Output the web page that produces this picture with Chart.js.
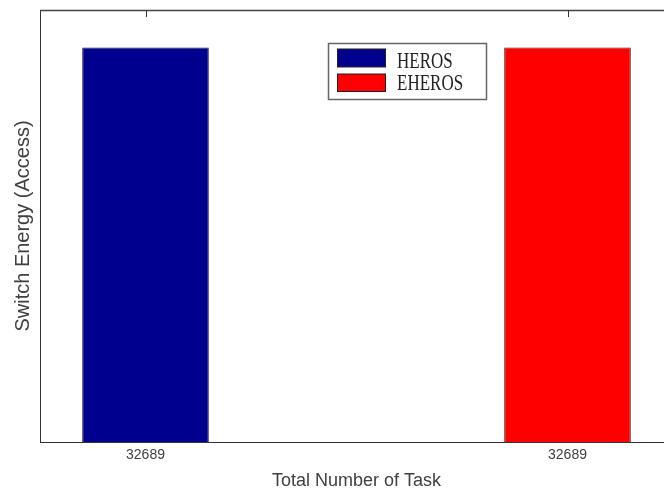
<!DOCTYPE html>
<html>
<head>
<meta charset="utf-8">
<script src="https://cdn.jsdelivr.net/npm/chart.js@4/dist/chart.umd.min.js"></script>
<style>
  html, body { margin: 0; padding: 0; background: #fff; overflow: hidden; }
  #wrap { width: 680px; height: 494px; }
</style>
</head>
<body>
<div id="wrap"><canvas id="energyChart"></canvas></div>
<script>
// Task-count positions on the x axis and the labels printed under them
const taskPositions = [1, 2];
const taskLabels = ['32689', '32689'];

// Series names and their (normalised) switch energy values
const seriesNames = ['HEROS', 'EHEROS'];
const herosEnergy = [1.0];
const eherosEnergy = [1.0];

const seriesColors = ['#00008F', '#FF0000'];
const energyAxisMax = 1.095;

// Frame: top border plus MATLAB-style inward tick marks
const framePlugin = {
  id: 'frame',
  beforeDatasetsDraw(chart) {
    const { ctx, chartArea } = chart;
    const xs = chart.scales.x;
    ctx.save();
    ctx.strokeStyle = '#444';
    ctx.lineWidth = 1.5;
    ctx.beginPath();
    ctx.moveTo(chartArea.left, chartArea.top + 0.5);
    ctx.lineTo(chartArea.right, chartArea.top + 0.5);
    ctx.stroke();
    ctx.lineWidth = 1;
    ctx.strokeStyle = '#333';
    xs.ticks.forEach((t) => {
      const px = Math.round(xs.getPixelForValue(t.value)) + 0.5;
      ctx.beginPath();
      ctx.moveTo(px, chartArea.top);
      ctx.lineTo(px, chartArea.top + 7);
      ctx.moveTo(px, chartArea.bottom);
      ctx.lineTo(px, chartArea.bottom - 7);
      ctx.stroke();
    });
    ctx.restore();
  }
};

// Boxed legend drawn inside the plot area
const boxedLegendPlugin = {
  id: 'boxedLegend',
  afterDatasetsDraw(chart) {
    const { ctx } = chart;
    const box = { x: 328, y: 43, w: 158, h: 56 };
    ctx.save();
    ctx.fillStyle = '#fff';
    ctx.fillRect(box.x, box.y, box.w, box.h);
    ctx.strokeStyle = '#666';
    ctx.lineWidth = 1.5;
    ctx.strokeRect(box.x + 0.5, box.y + 0.5, box.w, box.h);
    const rows = [
      { sy: 49, sh: 18, base: 68 },
      { sy: 74, sh: 17.5, base: 90 }
    ];
    chart.data.datasets.forEach((ds, i) => {
      const r = rows[i];
      ctx.fillStyle = ds.backgroundColor;
      ctx.fillRect(337.5, r.sy, 48, r.sh);
      ctx.strokeStyle = '#222';
      ctx.lineWidth = 1;
      ctx.strokeRect(337.5, r.sy, 48, r.sh);
      ctx.save();
      ctx.translate(397, r.base);
      ctx.scale(1, 1.35);
      ctx.fillStyle = '#222';
      ctx.font = '17px "Liberation Serif", "Times New Roman", serif';
      ctx.textBaseline = 'alphabetic';
      ctx.fillText(ds.label, 0, 0);
      ctx.restore();
    });
    ctx.restore();
  }
};

new Chart(document.getElementById('energyChart'), {
  type: 'bar',
  data: {
    datasets: [
      {
        label: seriesNames[0],
        data: herosEnergy.map((v) => ({ x: taskPositions[0], y: v })),
        backgroundColor: seriesColors[0],
        borderColor: '#1a1a3a',
        borderWidth: 1,
        grouped: false,
        categoryPercentage: 1,
        barPercentage: 0.3
      },
      {
        label: seriesNames[1],
        data: eherosEnergy.map((v) => ({ x: taskPositions[1], y: v })),
        backgroundColor: seriesColors[1],
        borderColor: '#3a1a1a',
        borderWidth: 1,
        grouped: false,
        categoryPercentage: 1,
        barPercentage: 0.3
      }
    ]
  },
  options: {
    responsive: true,
    maintainAspectRatio: false,
    animation: false,
    layout: { padding: { top: 10, right: 7, left: 0, bottom: 0 } },
    plugins: {
      legend: { display: false },
      tooltip: { enabled: false }
    },
    scales: {
      x: {
        type: 'linear',
        offset: false,
        min: 0.75,
        max: 2.25,
        afterBuildTicks(scale) {
          scale.ticks = taskPositions.map((v) => ({ value: v }));
        },
        afterFit(scale) { scale.height = 52; },
        grid: { display: false, offset: false, drawTicks: false, tickLength: 0 },
        border: { display: true, color: '#333', width: 1 },
        ticks: {
          padding: 5,
          color: '#404040',
          font: { family: '"Liberation Sans", Arial, sans-serif', size: 14 },
          maxRotation: 0,
          callback: (value, index) => taskLabels[index]
        },
        title: {
          display: true,
          text: 'Total Number of Task',
          color: '#404040',
          font: { family: '"Liberation Sans", Arial, sans-serif', size: 18 },
          padding: { top: 0, bottom: 2 }
        }
      },
      y: {
        min: 0,
        max: energyAxisMax,
        afterFit(scale) { scale.width = 40; },
        grid: { display: false, drawTicks: false, tickLength: 0 },
        border: { display: true, color: '#333', width: 1 },
        ticks: { display: false },
        title: {
          display: true,
          text: 'Switch Energy (Access)',
          color: '#404040',
          font: { family: '"Liberation Sans", Arial, sans-serif', size: 20 },
          padding: { top: 11, bottom: 0 }
        }
      }
    }
  },
  plugins: [framePlugin, boxedLegendPlugin]
});
</script>
</body>
</html>
